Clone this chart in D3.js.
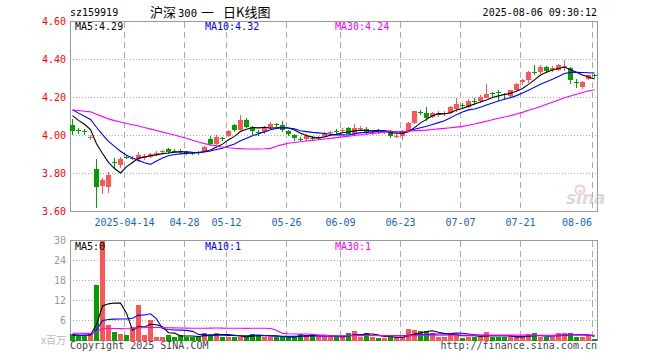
<!DOCTYPE html>
<html>
<head>
<meta charset="utf-8">
<script src="https://cdn.jsdelivr.net/npm/d3@7"></script>
<style>
body { margin: 0; background: #fff; }
svg { display: block; }
text { font-family: "DejaVu Sans Mono", monospace; font-size: 10px; }
</style>
</head>
<body>
<svg id="chart" width="660" height="360"></svg>
<script>
// trading days shown (2025)
var dates = ['03-31','04-01','04-02','04-03','04-07','04-08','04-09','04-10','04-11','04-14',
    '04-15','04-16','04-17','04-18','04-21','04-22','04-23','04-24','04-25','04-28',
    '04-29','04-30','05-06','05-07','05-08','05-09','05-12','05-13','05-14','05-15',
    '05-16','05-19','05-20','05-21','05-22','05-23','05-26','05-27','05-28','05-29',
    '05-30','06-03','06-04','06-05','06-06','06-09','06-10','06-11','06-12','06-13',
    '06-16','06-17','06-18','06-19','06-20','06-23','06-24','06-25','06-26','06-27',
    '06-30','07-01','07-02','07-03','07-04','07-07','07-08','07-09','07-10','07-11',
    '07-14','07-15','07-16','07-17','07-18','07-21','07-22','07-23','07-24','07-25',
    '07-28','07-29','07-30','07-31','08-01','08-04','08-05','08-06'];

var open = [4.053,4.030,4.022,3.985,3.826,3.732,3.730,3.860,3.844,3.889,
    3.876,3.874,3.880,3.889,3.897,3.912,3.930,3.920,3.920,3.912,
    3.908,3.912,3.921,3.979,3.955,3.985,3.996,4.053,4.027,4.084,
    4.045,4.020,4.021,4.044,4.060,4.054,4.023,4.003,3.980,3.980,
    3.988,3.983,3.998,4.012,4.025,4.025,4.042,4.010,4.037,4.033,
    4.015,4.027,4.020,4.017,3.995,3.995,4.023,4.068,4.125,4.116,
    4.096,4.110,4.117,4.121,4.140,4.158,4.151,4.180,4.180,4.200,
    4.222,4.228,4.216,4.207,4.237,4.279,4.290,4.335,4.333,4.363,
    4.346,4.347,4.365,4.356,4.280,4.254,4.295,4.320];
var high = [4.089,4.040,4.035,4.005,3.874,3.777,3.810,3.880,3.888,3.900,
    3.890,3.912,3.905,3.910,3.920,3.925,3.935,3.930,3.930,3.920,
    3.915,3.920,3.945,4.000,4.005,3.990,4.030,4.060,4.109,4.090,
    4.050,4.030,4.050,4.070,4.065,4.077,4.030,4.010,3.990,4.010,
    3.998,3.998,4.020,4.025,4.035,4.040,4.045,4.063,4.050,4.045,
    4.030,4.035,4.030,4.030,4.010,4.030,4.070,4.130,4.135,4.150,
    4.125,4.130,4.130,4.155,4.198,4.170,4.190,4.200,4.215,4.270,
    4.230,4.238,4.225,4.240,4.275,4.295,4.337,4.370,4.370,4.365,
    4.365,4.375,4.400,4.360,4.298,4.286,4.320,4.325];
var low = [4.005,4.010,4.005,3.978,3.620,3.690,3.700,3.830,3.828,3.875,
    3.870,3.863,3.870,3.880,3.890,3.905,3.905,3.910,3.905,3.900,
    3.895,3.900,3.915,3.947,3.950,3.970,3.990,4.020,4.020,4.040,
    4.005,4.000,4.010,4.035,4.045,4.017,4.000,3.970,3.970,3.970,
    3.975,3.975,3.990,4.005,4.005,4.015,4.005,4.005,4.030,4.005,
    4.005,4.010,4.010,3.986,3.986,3.977,4.020,4.060,4.110,4.077,
    4.090,4.100,4.105,4.115,4.125,4.140,4.145,4.163,4.170,4.196,
    4.200,4.184,4.185,4.198,4.232,4.265,4.275,4.320,4.325,4.330,
    4.335,4.340,4.338,4.272,4.250,4.245,4.290,4.305];
var close = [4.023,4.025,4.018,3.990,3.728,3.767,3.790,3.856,3.874,3.886,
    3.882,3.900,3.893,3.905,3.910,3.916,3.914,3.917,3.912,3.910,
    3.905,3.910,3.940,3.953,3.990,3.980,4.026,4.027,4.083,4.047,
    4.026,4.017,4.042,4.061,4.056,4.030,4.009,3.986,3.977,4.000,
    3.985,3.990,4.012,4.020,4.022,4.030,4.008,4.042,4.040,4.012,
    4.021,4.024,4.023,3.995,3.998,4.021,4.065,4.128,4.120,4.091,
    4.116,4.121,4.120,4.151,4.165,4.155,4.182,4.176,4.205,4.217,
    4.219,4.225,4.213,4.237,4.270,4.293,4.332,4.332,4.363,4.342,
    4.356,4.372,4.368,4.293,4.276,4.284,4.317,4.318];
// volume, millions
var volume = [2.0,1.4,1.4,2.2,16.7,30.0,4.7,2.6,2.0,1.7,
    4.1,10.7,1.7,6.1,1.1,1.1,1.7,1.1,1.7,1.1,
    1.1,1.1,2.3,2.1,2.3,1.1,1.1,1.1,1.1,1.1,
    2.1,1.7,1.1,1.1,1.1,1.1,1.1,1.1,1.9,1.7,
    1.9,1.1,1.1,1.1,1.1,1.1,2.3,2.9,1.1,2.3,
    1.1,0.7,0.7,1.3,0.7,1.0,3.5,3.1,2.9,2.9,
    2.3,1.1,1.1,2.1,2.1,0.7,1.1,1.1,1.1,2.7,
    1.1,1.1,1.1,1.1,1.1,1.1,1.9,2.3,1.1,1.1,
    1.1,2.3,2.3,2.3,1.1,1.1,1.5,0.5];

// sessions before the window, only feed the moving averages
var preClose = [4.10,4.12,4.09,4.11,4.14,4.15,4.13,4.10,4.12,4.08,
    4.10,4.13,4.15,4.14,4.16,4.13,4.15,4.18,4.17,4.21,
    4.20,4.18,4.16,4.14,4.15,4.15,4.12,4.13,4.10];
var preVolume = [2.6,2.4,2.8,2.5,2.3,2.7,2.6,2.4,2.5,2.6,
    2.4,2.5,2.7,2.3,2.6,2.5,2.4,2.6,2.5,2.5,
    1.5,1.6,1.4,1.5,1.5,1.8,1.6,1.5,1.6];

var priceTicks = [3.6, 3.8, 4.0, 4.2, 4.4, 4.6];
var volTicks = [6, 12, 18, 24, 30];
var dateTicks = ['04-14','04-28','05-12','05-26','06-09','06-23','07-07','07-21','08-06'];
var dateTickLabels = ['2025-04-14','04-28','05-12','05-26','06-09','06-23','07-07','07-21','08-06'];
var maDays = [5, 10, 30];
var maColors = ['#000', '#00f', '#f0f'];
var priceMaLabels = ['MA5:4.29', 'MA10:4.32', 'MA30:4.24'];
var volMaLabels = ['MA5:0', 'MA10:1', 'MA30:1'];
var titleParts = ['沪深', '300', '一', '日K线图'];

var RED = '#ff5555', GREEN = '#00a000', GRID = '#aaa', FRAME = '#999';

var svg = d3.select('#chart');
var left = 70, right = 598;
var pTop = 21.5, pBot = 211.5, vTop = 240.5, vBot = 340.5;

var x = d3.scaleBand().domain(d3.range(dates.length)).range([left, right]).padding(0);
var yP = d3.scaleLinear().domain([3.6, 4.6]).range([pBot, pTop]);
var yV = d3.scaleLinear().domain([0, 30]).range([vBot, vTop]).clamp(true);
var bw = x.bandwidth() - 1;

function movingAvg(pre, vals, n) {
    var all = pre.concat(vals);
    return vals.map(function (d, i) {
        var j = i + pre.length;
        return d3.mean(all.slice(j - n + 1, j + 1));
    });
}
function isUp(i) { return close[i] >= open[i]; }
function cx(i) { return x(i) + bw / 2; }

// headers
svg.append('text').attr('x', 70).attr('y', 16).attr('fill', '#000').text('sz159919');
var title = svg.append('text').attr('y', 17)
    .style('font-family', '"Noto Sans CJK SC", sans-serif').style('font-size', '13px')
    .attr('fill', '#000');
var titleX = [150, 178, 201, 223];
title.selectAll('tspan').data(titleParts).enter().append('tspan')
    .attr('x', function (d, i) { return titleX[i]; })
    .style('font-family', function (d, i) { return i === 1 ? '"DejaVu Sans Mono", monospace' : null; })
    .style('font-size', function (d, i) { return i === 1 ? '10.5px' : null; })
    .text(function (d) { return d; });
svg.append('text').attr('x', 597).attr('y', 16).attr('text-anchor', 'end')
    .attr('fill', '#000').text('2025-08-06 09:30:12');

function drawPanel(top, bot, ticks, yScale) {
    var g = svg.append('g').attr('shape-rendering', 'crispEdges');
    g.selectAll('line.h').data(ticks).enter().append('line')
        .attr('x1', left).attr('x2', right)
        .attr('y1', function (d) { return Math.round(yScale(d) - 0.5) + 0.5; })
        .attr('y2', function (d) { return Math.round(yScale(d) - 0.5) + 0.5; })
        .attr('stroke', GRID).attr('stroke-dasharray', '1,2');
    g.selectAll('line.v').data(dateTicks).enter().append('line')
        .attr('x1', function (d) { return x(dates.indexOf(d)) + 0.5; })
        .attr('x2', function (d) { return x(dates.indexOf(d)) + 0.5; })
        .attr('y1', top).attr('y2', bot)
        .attr('stroke', GRID).attr('stroke-dasharray', '6,4');
    g.append('rect').attr('x', left + 0.5).attr('y', top)
        .attr('width', right - left - 1).attr('height', bot - top)
        .attr('fill', 'none').attr('stroke', FRAME);
}

drawPanel(pTop, pBot, priceTicks, yP);
drawPanel(vTop, vBot, volTicks, yV);

// price axis labels
svg.selectAll('text.py').data(priceTicks).enter().append('text')
    .attr('x', 66).attr('y', function (d) { return yP(d) + 3.5; })
    .attr('text-anchor', 'end').attr('fill', '#f00')
    .text(function (d) { return d3.format('.2f')(d); });

// volume axis labels
svg.selectAll('text.vy').data(volTicks).enter().append('text')
    .attr('x', 66).attr('y', function (d) { return yV(d) + 3.5; })
    .attr('text-anchor', 'end').attr('fill', '#999')
    .text(function (d) { return d; });
svg.append('text').attr('x', 66).attr('y', vBot + 3.5).attr('text-anchor', 'end')
    .attr('fill', '#bbb').style('font-family', '"Noto Sans CJK SC", sans-serif')
    .text('x百万');

// date labels
svg.selectAll('text.dx').data(dateTicks).enter().append('text')
    .attr('x', function (d, i) { return x(dates.indexOf(d)) + (i === dateTicks.length - 1 ? 0 : 0.5); })
    .attr('y', 226)
    .attr('text-anchor', function (d, i) { return i === dateTicks.length - 1 ? 'end' : 'middle'; })
    .attr('fill', '#1464c8')
    .text(function (d, i) { return dateTickLabels[i]; });

// sina watermark
var wm = svg.append('g').attr('opacity', 0.55);
wm.append('circle').attr('cx', 580).attr('cy', 190).attr('r', 4.5)
    .attr('fill', 'none').attr('stroke', '#f2a0a0').attr('stroke-width', 2);
wm.append('text').attr('x', 566).attr('y', 204)
    .style('font-family', '"DejaVu Sans", sans-serif').style('font-size', '17px')
    .style('font-style', 'italic').style('font-weight', 'bold')
    .attr('fill', '#bdbdbd').text('sina');

// candles
var idx = d3.range(dates.length);
var cg = svg.append('g').attr('shape-rendering', 'crispEdges');
cg.selectAll('line.wick').data(idx).enter().append('line')
    .attr('x1', function (i) { return Math.floor(cx(i)) + 0.5; })
    .attr('x2', function (i) { return Math.floor(cx(i)) + 0.5; })
    .attr('y1', function (i) { return yP(high[i]); })
    .attr('y2', function (i) { return yP(low[i]); })
    .attr('stroke', function (i) { return isUp(i) ? RED : GREEN; });
cg.selectAll('rect.body').data(idx).enter().append('rect')
    .attr('x', function (i) { return x(i); })
    .attr('width', bw)
    .attr('y', function (i) { return yP(Math.max(open[i], close[i])); })
    .attr('height', function (i) {
        return Math.max(1, Math.abs(yP(open[i]) - yP(close[i])));
    })
    .attr('fill', function (i) { return isUp(i) ? RED : GREEN; });

// volume bars
cg.selectAll('rect.vol').data(idx).enter().append('rect')
    .attr('x', function (i) { return x(i); })
    .attr('width', bw)
    .attr('y', function (i) { return yV(volume[i]); })
    .attr('height', function (i) { return yV(0) - yV(volume[i]); })
    .attr('fill', function (i) { return isUp(i) ? RED : GREEN; });

// moving average lines
function drawMa(pre, vals, yScale) {
    maDays.forEach(function (n, k) {
        var ma = movingAvg(pre, vals, n);
        var line = d3.line()
            .x(function (d, i) { return cx(i); })
            .y(function (d) { return yScale(d); });
        svg.append('path').datum(ma)
            .attr('d', line)
            .attr('fill', 'none')
            .attr('stroke', maColors[k])
            .attr('stroke-width', 1.1);
    });
}
drawMa(preClose, close, yP);
drawMa(preVolume, volume, yV);

// legends
var legendX = [75, 205, 335];
svg.selectAll('text.pma').data(priceMaLabels).enter().append('text')
    .attr('x', function (d, i) { return legendX[i]; }).attr('y', 30)
    .attr('fill', function (d, i) { return maColors[i]; })
    .text(function (d) { return d; });
svg.selectAll('text.vma').data(volMaLabels).enter().append('text')
    .attr('x', function (d, i) { return legendX[i]; }).attr('y', 250)
    .attr('fill', function (d, i) { return maColors[i]; })
    .text(function (d) { return d; });

// footer
svg.append('text').attr('x', 70).attr('y', 349).attr('fill', '#444')
    .text('Copyright 2025 SINA.COM');
svg.append('text').attr('x', 597).attr('y', 349).attr('text-anchor', 'end')
    .attr('fill', '#444').text('http://finance.sina.com.cn');
</script>
</body>
</html>
